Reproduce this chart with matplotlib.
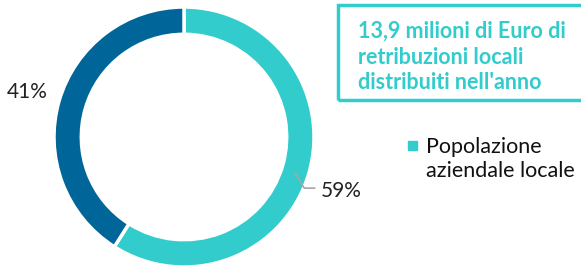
import numpy as np
import matplotlib.pyplot as plt

shares = [59, 41]
labels = ["59%", "41%"]
colors = ["#33CCCC", "#006699"]
legend_label = "Popolazione\naziendale locale"
box_text = "13,9 milioni di Euro di\nretribuzioni locali\ndistribuiti nell'anno"

plt.rcParams['font.family'] = ['Lato', 'DejaVu Sans']

W, H = 581, 271
fig = plt.figure(figsize=(W / 100, H / 100), dpi=100)

# donut axes: center (184,137) px, radius 130 px
cx, cy, r = 184, 137, 130
ax = fig.add_axes([(cx - r) / W, (H - cy - r) / H, 2 * r / W, 2 * r / H])
wedges, _ = ax.pie(shares, colors=colors, startangle=90, counterclock=False,
                   radius=1.0, wedgeprops=dict(width=0.21, edgecolor='white', linewidth=2.5))
ax.set_xlim(-1, 1)
ax.set_ylim(-1, 1)
ax.set_aspect('equal')
ax.axis('off')

# teal slice label with leader line
w = wedges[0]
ang = np.deg2rad((w.theta1 + w.theta2) / 2)
p0 = (0.89 * np.cos(ang), 0.89 * np.sin(ang) - 0.03)
p1 = (p0[0] + 0.07, p0[1] - 0.115)
ax.plot([p0[0], p1[0], p1[0] + 0.08], [p0[1], p1[1], p1[1]], color='#A6A6A6', lw=1.2,
        clip_on=False)
ax.text(p1[0] + 0.13, p1[1] - 0.02, labels[0], ha='left', va='center', fontsize=15,
        color='#222222')

# dark slice label
w = wedges[1]
ang = np.deg2rad((w.theta1 + w.theta2) / 2)
ax.text(1.09 * np.cos(ang), 1.09 * np.sin(ang) + 0.04, labels[1], ha='right', va='center',
        fontsize=15, color='#222222')

# info box
fig.patches.append(plt.Rectangle((338 / W, (H - 100) / H), 250 / W, 95 / H,
                                 transform=fig.transFigure, fill=False,
                                 edgecolor=colors[0], linewidth=2.5))
fig.text(358 / W, (H - 57) / H, box_text, ha='left', va='center', fontsize=15.5,
         fontweight='bold', color=colors[0], linespacing=1.28)

# legend
fig.patches.append(plt.Rectangle((408 / W, (H - 150) / H), 9 / W, 9 / H,
                                 transform=fig.transFigure, color=colors[0]))
fig.text(426 / W, (H - 159) / H, legend_label, ha='left', va='center', fontsize=15.5,
         color='#111111', linespacing=1.25)

fig.savefig("out.png", dpi=100)
